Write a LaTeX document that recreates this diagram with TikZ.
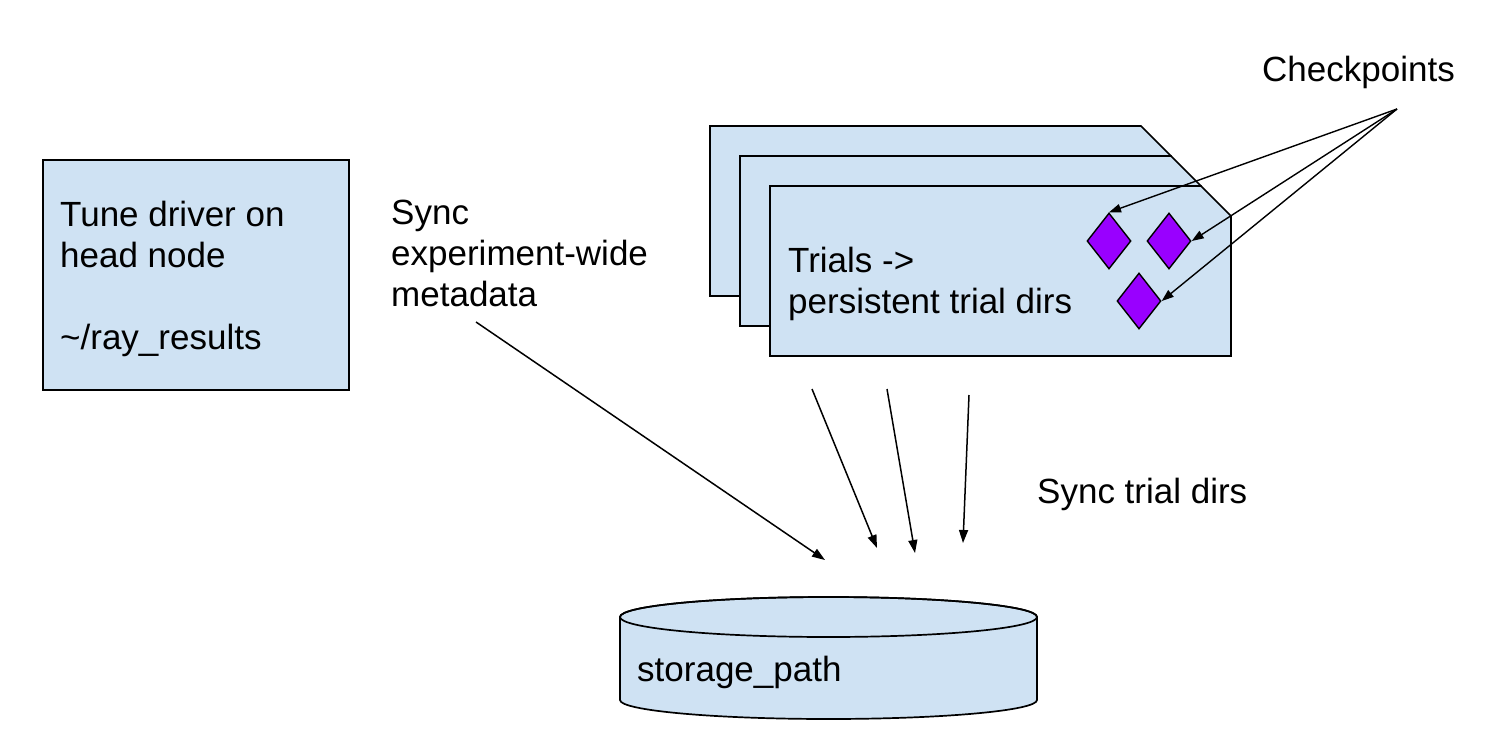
\documentclass[tikz,border=0pt]{standalone}
\usepackage{fontspec}
\setmainfont{Liberation Sans}
\usetikzlibrary{arrows.meta,shapes.geometric}
\definecolor{boxblue}{HTML}{CFE2F3}
\definecolor{ckpurple}{HTML}{9900FF}
\begin{document}
\begin{tikzpicture}[x=1pt,y=-1pt,
  lbl/.style={anchor=base west, inner sep=0pt, font=\fontsize{35}{41}\selectfont},
  boxline/.style={draw=black, line width=1.7pt, fill=boxblue},
  arr/.style={-{Triangle[length=13pt,width=9pt]}, line width=1.5pt},
  ckarr/.style={-{Triangle[length=12pt,width=8.5pt]}, line width=1.4pt},
  ckpt/.style={diamond, draw=black, line width=1.4pt, fill=ckpurple, minimum width=44pt, minimum height=56pt, inner sep=0pt}
]
\useasboundingbox (0,0) rectangle (1488,749);

% head node box
\node[boxline, rectangle, minimum width=306pt, minimum height=230pt, anchor=north west, inner sep=0pt] (driver) at (42,159) {};
\node[lbl] (drv1) at (60,226) {Tune driver on};
\node[lbl] (drv2) at (60,267) {head node};
\node[lbl] (drv3) at (60,349) {\char"7E/ray\_results};

% metadata label
\node[lbl] (meta1) at (391,224) {Sync};
\node[lbl] (meta2) at (391,265) {experiment-wide};
\node[lbl] (meta3) at (391,306) {metadata};

% stacked trial cards
\path[boxline] (710,126) -- (1141,126) -- (1171,156) -- (1171,296) -- (710,296) -- cycle;
\path[boxline] (740,156) -- (1171,156) -- (1201,186) -- (1201,326) -- (740,326) -- cycle;
\path[boxline] (770,186) -- (1201,186) -- (1231,216) -- (1231,356) -- (770,356) -- cycle;
\node[lbl] (trial1) at (788,272) {Trials ->};
\node[lbl] (trial2) at (788,313) {persistent trial dirs};

% checkpoints
\node[ckpt] (ck1) at (1109,241) {};
\node[ckpt] (ck2) at (1169,241) {};
\node[ckpt] (ck3) at (1139,301) {};
\node[lbl] (cklbl) at (1262,82) {Checkpoints};
\coordinate (ckorig) at (1397,109);
\draw[ckarr] (ckorig) -- (ck1.north);
\draw[ckarr] (ckorig) -- (ck2.east);
\draw[ckarr] (ckorig) -- (ck3.east);

% storage cylinder
\path[boxline] (620,617) -- (620,700) arc[start angle=180, end angle=360, x radius=208.5pt, y radius=19pt]
  -- (1037,617) arc[start angle=0, end angle=180, x radius=208.5pt, y radius=20pt] -- cycle;
\draw[line width=1.7pt] (828.5,617) ellipse [x radius=208.5pt, y radius=20pt];
\node[lbl] (storage) at (637,681) {storage\_path};

% sync trial dirs label
\node[lbl] (synclbl) at (1037,503) {Sync trial dirs};

% arrows to storage
\coordinate (m0) at (476,322);
\coordinate (m1) at (825,560);
\draw[arr] (m0) -- (m1);
\coordinate (a0) at (812,389);
\coordinate (a1) at (877,548);
\draw[arr] (a0) -- (a1);
\coordinate (b0) at (887,389);
\coordinate (b1) at (915,553);
\draw[arr] (b0) -- (b1);
\coordinate (c0) at (969,395);
\coordinate (c1) at (963,543);
\draw[arr] (c0) -- (c1);
\end{tikzpicture}
\end{document}
